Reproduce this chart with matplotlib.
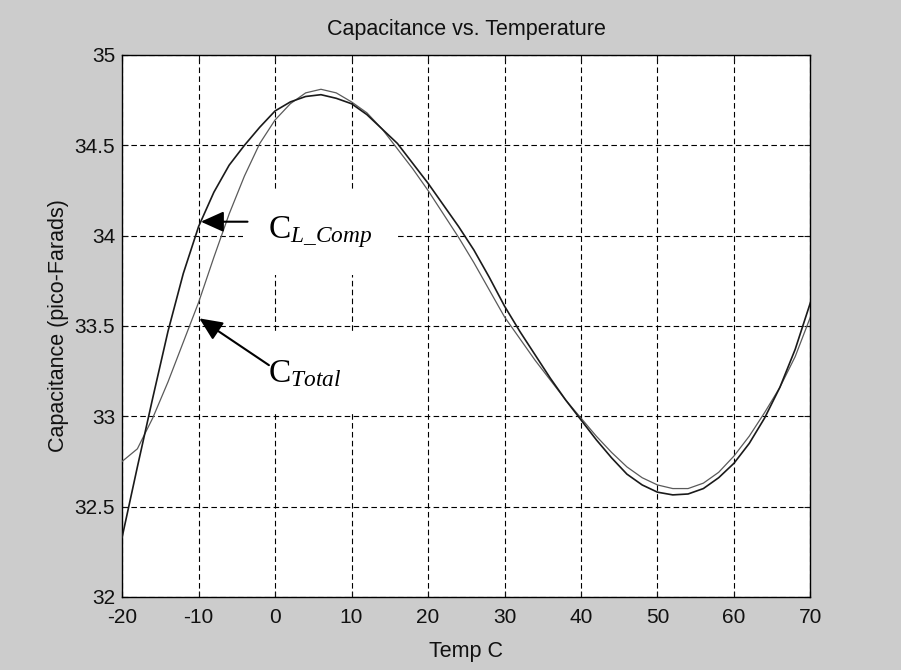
import matplotlib
matplotlib.use("Agg")
import matplotlib.pyplot as plt

# temperatures (deg C) and capacitance readings
temp = [-20, -18, -16, -14, -12, -10, -8, -6, -4, -2, 0, 2, 4, 6, 8, 10,
        12, 14, 16, 18, 20, 22, 24, 26, 28, 30, 32, 34, 36, 38, 40,
        42, 44, 46, 48, 50, 52, 54, 56, 58, 60, 62, 64, 66, 68, 70]

c_comp = [32.33, 32.72, 33.10, 33.47, 33.79, 34.05, 34.24, 34.39, 34.50, 34.60,
          34.69, 34.74, 34.77, 34.78, 34.76, 34.73, 34.67, 34.59, 34.51, 34.40,
          34.29, 34.17, 34.05, 33.92, 33.77, 33.61, 33.47, 33.34, 33.21, 33.09,
          32.98, 32.87, 32.77, 32.68, 32.62, 32.58, 32.565, 32.57, 32.60, 32.66,
          32.74, 32.85, 32.99, 33.16, 33.37, 33.63]

c_total = [32.75, 32.82, 32.99, 33.19, 33.41, 33.63, 33.88, 34.12, 34.33, 34.51,
           34.64, 34.73, 34.79, 34.81, 34.79, 34.74, 34.68, 34.59, 34.48, 34.37,
           34.25, 34.12, 33.99, 33.85, 33.70, 33.55, 33.43, 33.31, 33.20, 33.09,
           32.99, 32.89, 32.80, 32.72, 32.66, 32.62, 32.60, 32.60, 32.63, 32.69,
           32.78, 32.89, 33.02, 33.16, 33.33, 33.55]

xticks = [-20, -10, 0, 10, 20, 30, 40, 50, 60, 70]
yticks = [32, 32.5, 33, 33.5, 34, 34.5, 35]
yticklabels = ['32', '32.5', '33', '33.5', '34', '34.5', '35']

plt.rcParams['font.family'] = ['Liberation Sans', 'DejaVu Sans']
plt.rcParams['axes.unicode_minus'] = False
plt.rcParams['mathtext.fontset'] = 'custom'
plt.rcParams['mathtext.rm'] = 'Liberation Serif'
plt.rcParams['mathtext.it'] = 'Liberation Serif:italic'

fig = plt.figure(figsize=(9.01, 6.70), dpi=100, facecolor='#cccccc')
ax = fig.add_axes([0.1355, 0.109, 0.764, 0.809])
ax.set_facecolor('white')
ax.set_axisbelow(True)

ax.plot(temp, c_total, color='#5a5a5a', lw=0.9, zorder=3)
ax.plot(temp, c_comp, color='#1a1a1a', lw=1.2, zorder=3)

ax.set_xlim(-20, 70)
ax.set_ylim(32, 35)
ax.set_xticks(xticks)
ax.set_yticks(yticks)
ax.set_yticklabels(yticklabels)
ax.tick_params(direction='in', top=True, right=True, length=4, width=0.8,
               labelsize=15, colors='#111111')
ax.tick_params(axis='x', pad=8)
ax.tick_params(axis='y', pad=5)
ax.grid(True, color='black', linestyle=(0, (5, 3)), linewidth=0.8)
for s in ax.spines.values():
    s.set_linewidth(1.0)

ax.set_title('Capacitance vs. Temperature', fontsize=15.5, color='#111111', pad=14)
ax.set_xlabel('Temp C', fontsize=15.5, color='#111111', labelpad=10)
ax.set_ylabel('Capacitance (pico-Farads)', fontsize=15.5, color='#111111', labelpad=4)

# labels in white boxes that hide the grid, with arrows to the curves
box = dict(boxstyle='square,pad=0.75', facecolor='white', edgecolor='none')
ax.text(-0.95, 33.987, r'$\mathrm{C}_{\mathit{L\_Comp}}$', fontsize=24,
        va='baseline', ha='left', bbox=box, zorder=1)
ax.text(-0.95, 33.19, r'$\mathrm{C}_{\mathit{Total}}$', fontsize=24,
        va='baseline', ha='left', bbox=box, zorder=1)

arrow = dict(arrowstyle='-|>,head_length=1.0,head_width=0.45', mutation_scale=14,
             color='black', lw=1.5, shrinkA=0, shrinkB=0)
ax.annotate('', xy=(-9.7, 34.077), xytext=(-3.6, 34.077), arrowprops=arrow, zorder=5)
ax.annotate('', xy=(-9.9, 33.542), xytext=(-0.8, 33.283), arrowprops=arrow, zorder=5)

fig.savefig('out.png', dpi=100, facecolor=fig.get_facecolor())
